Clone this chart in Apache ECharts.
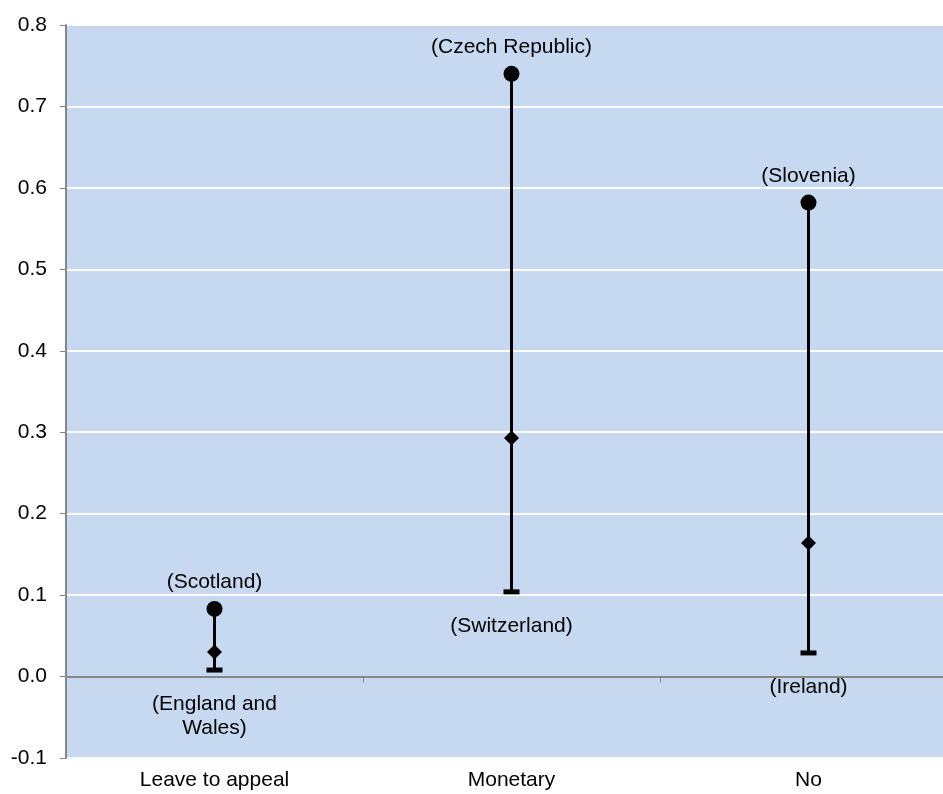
<!DOCTYPE html>
<html>
<head>
<meta charset="utf-8">
<script src="https://cdn.jsdelivr.net/npm/echarts@6/dist/echarts.min.js"></script>
<style>html,body{margin:0;padding:0;background:#fff;overflow:hidden;width:943px;height:794px;}#c{width:958px;height:794px;}</style>
</head>
<body>
<div id="c"></div>
<script>
var categories = ['Leave to appeal', 'Monetary', 'No'];
var maxValues = [0.083, 0.740, 0.582];
var meanValues = [0.030, 0.293, 0.164];
var minValues = [0.008, 0.104, 0.029];
var maxLabels = ['(Scotland)', '(Czech Republic)', '(Slovenia)'];
var minLabels = ['(England and\nWales)', '(Switzerland)', '(Ireland)'];

var FONT = '"Liberation Sans", Arial, sans-serif';
var FS = 21;
var chart = echarts.init(document.getElementById('c'), null, {renderer: 'canvas'});

var rangeData = categories.map(function (c, i) { return [i, minValues[i], maxValues[i]]; });

chart.setOption({
  animation: false,
  backgroundColor: '#ffffff',
  grid: {left: 66, top: 25, width: 891, height: 733, show: true, backgroundColor: '#c6d9f0', borderWidth: 0},
  xAxis: [{
    type: 'category', data: categories, boundaryGap: true,
    axisLine: {onZero: true, lineStyle: {color: '#878787', width: 2}},
    axisTick: {show: true, length: 6, lineStyle: {color: '#878787', width: 1}},
    axisLabel: {show: false},
    splitLine: {show: false}
  }, {
    type: 'category', data: categories, position: 'bottom', boundaryGap: true,
    axisLine: {show: false, onZero: false},
    axisTick: {show: false},
    axisLabel: {show: true, margin: 12, fontFamily: FONT, fontSize: FS, color: '#000'},
    splitLine: {show: false}
  }],
  yAxis: {
    type: 'value', min: -0.1, max: 0.8, interval: 0.1,
    axisLine: {show: true, lineStyle: {color: '#878787', width: 2}},
    axisTick: {show: true, length: 6, lineStyle: {color: '#878787', width: 1}},
    axisLabel: {margin: 19, fontFamily: FONT, fontSize: FS, color: '#000',
      formatter: function (v) { return v.toFixed(1); }},
    splitLine: {show: true, lineStyle: {color: '#ffffff', width: 2}}
  },
  series: [{
    type: 'custom', xAxisIndex: 0, data: rangeData, z: 2,
    encode: {x: 0, y: [1, 2]},
    renderItem: function (params, api) {
      var i = api.value(0);
      var p1 = api.coord([i, api.value(1)]);
      var p2 = api.coord([i, api.value(2)]);
      return {type: 'line', shape: {x1: p1[0], y1: p1[1], x2: p2[0], y2: p2[1]},
        style: {stroke: '#000', lineWidth: 3}};
    }
  }, {
    type: 'scatter', xAxisIndex: 0, data: maxValues, symbol: 'circle', symbolSize: 16, z: 3,
    itemStyle: {color: '#000', opacity: 1},
    label: {show: true, position: 'top', distance: 8, fontFamily: FONT, fontSize: FS, color: '#000',
      formatter: function (p) { return maxLabels[p.dataIndex]; }}
  }, {
    type: 'scatter', xAxisIndex: 0, data: meanValues, symbol: 'diamond', symbolSize: [15, 15], z: 3,
    itemStyle: {color: '#000', opacity: 1}
  }, {
    type: 'scatter', xAxisIndex: 0, data: minValues, symbol: 'rect', symbolSize: [16, 5], z: 3,
    itemStyle: {color: '#000', opacity: 1},
    label: {show: true, position: 'bottom', distance: 20, lineHeight: 24, fontFamily: FONT, fontSize: FS, color: '#000', align: 'center',
      formatter: function (p) { return minLabels[p.dataIndex]; }}
  }]
});
</script>
</body>
</html>
